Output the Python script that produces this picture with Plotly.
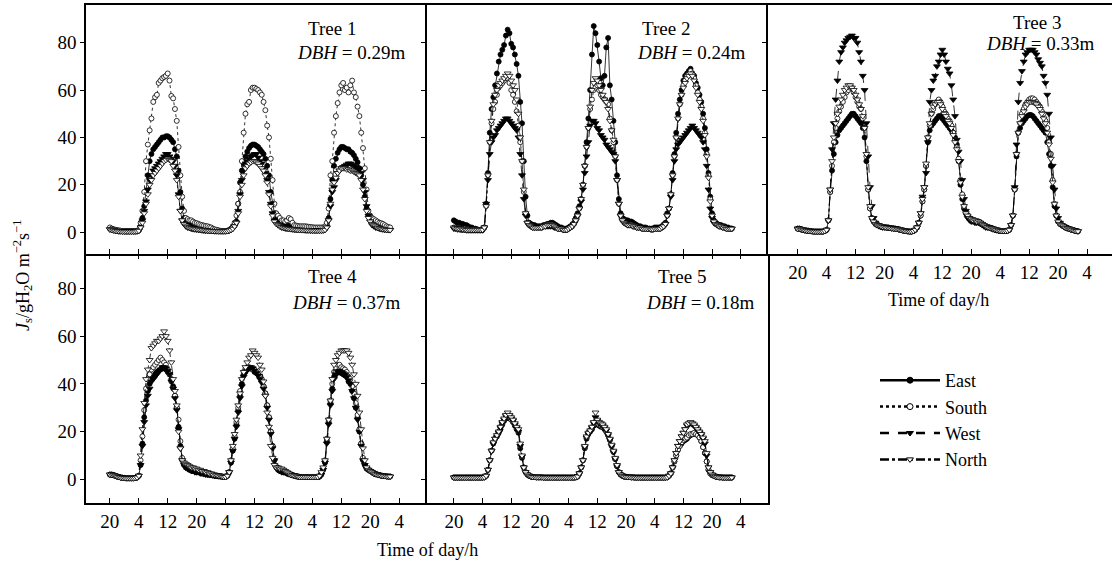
import plotly.graph_objects as go

# ---------------- data (half-hourly sap flux density) ----------------
hours = [i * 0.5 for i in range(156)]          # hours after 20:00 of first day
tick_vals = [0, 8, 16, 24, 32, 40, 48, 56, 64, 72, 80]
tick_text = ["20", "4", "12", "20", "4", "12", "20", "4", "12", "20", "4"]
y_ticks = [0, 20, 40, 60, 80]

tree_names = ["Tree 1", "Tree 2", "Tree 3", "Tree 4", "Tree 5"]
tree_dbh = ["0.29", "0.24", "0.33", "0.37", "0.18"]
directions = ["East", "South", "West", "North"]

tree1_east = [
    1.5, 1.5, 1.2, 1.0, 0.8, 0.7, 0.6, 0.5, 0.5, 0.5, 0.5, 0.5,
    0.5, 0.5, 0.5, 0.6, 0.8, 2.5, 6, 11, 17, 24, 30, 33,
    35, 36, 37, 38, 39, 40, 40, 40.5, 40.5, 40, 39, 38,
    35, 32, 26, 17, 10, 6, 4.5, 3.5, 3, 2.8, 2.5, 2.3,
    2.2, 2, 2, 1.8, 1.6, 1.5, 1.5, 1.4, 1.3, 1.2, 1, 0.8,
    0.7, 0.5, 0.5, 0.5, 0.5, 0.6, 0.8, 1.2, 2, 3, 4.5, 12,
    21, 26, 29, 32, 34, 35.5, 36.5, 37, 37, 36.5, 36, 35,
    34, 33, 31, 28, 24, 17, 12, 8, 5.5, 4.5, 4, 3.5,
    3, 3, 2.8, 2.6, 2.5, 2.4, 2.2, 2.1, 2, 2, 2, 1.9,
    1.8, 1.8, 1.7, 1.6, 1.6, 1.5, 1.5, 1.5, 1.5, 1.5, 1.5, 1.5,
    3, 6, 14, 22, 28, 31, 33.5, 35, 36, 36, 35.5, 35,
    35, 34, 33.5, 32.5, 31, 29.5, 27, 24, 20, 15, 10, 7,
    5.5, 4.5, 4, 3.5, 3, 2.6, 2.3, 2, 1.8, 1.6, 1.5, 1.5,
]
tree1_south = [
    2, 1.5, 1.2, 1, 0.8, 0.7, 0.6, 0.5, 0.5, 0.5, 0.5, 0.5,
    0.5, 0.5, 0.5, 0.6, 0.8, 4, 9, 17, 30, 37, 43, 48,
    55, 57, 58, 63, 64, 65, 65.5, 66, 67, 64, 57.5, 56.5,
    52, 47, 36, 24, 15, 9, 6, 5.5, 5, 5, 4.5, 4,
    3.8, 3.5, 3.2, 3, 2.8, 2.6, 2.5, 2.2, 2, 1.5, 1.2, 1,
    0.8, 0.6, 0.5, 0.5, 0.5, 0.6, 0.8, 1.5, 2.5, 4, 7, 12,
    17, 30, 42, 50, 54, 55, 60, 61, 61, 60.5, 60, 59,
    58, 55, 51.5, 45, 40, 31, 22, 12, 8, 7, 6, 5,
    5, 4.5, 5, 6, 5.5, 4, 3, 2.8, 2.6, 2.5, 2.5, 2.5,
    2.5, 2.4, 2.3, 2.2, 2.1, 2, 2, 2, 2, 2, 2, 2.5,
    4, 10, 24, 30, 42, 49, 54.5, 59, 62, 63, 60, 61,
    59, 62, 64, 59, 57, 53, 49, 42, 35.5, 27, 18, 9,
    7, 6, 5.5, 5, 4.5, 4, 3.8, 3.5, 3, 2.5, 2.2, 2,
]
tree1_west = [
    1.2, 1, 0.8, 0.6, 0.5, 0.4, 0.4, 0.3, 0.3, 0.3, 0.3, 0.3,
    0.3, 0.3, 0.3, 0.4, 0.6, 2, 5, 9, 13, 18, 22, 24,
    26, 27, 28, 29, 30, 31, 32, 33, 33, 32, 31, 30,
    28, 24, 16, 9, 5, 3.5, 2.5, 2, 1.8, 1.5, 1.3, 1.2,
    1.1, 1, 0.9, 0.8, 0.7, 0.6, 0.6, 0.5, 0.5, 0.5, 0.4, 0.4,
    0.4, 0.4, 0.4, 0.4, 0.4, 0.5, 0.7, 1, 1.5, 2.5, 4, 9,
    16, 22, 26, 29, 30, 31, 32, 32.5, 33, 33, 31.5, 30,
    29, 27, 25, 22, 17, 12, 8, 5, 4, 3, 2.5, 2,
    1.8, 1.6, 1.5, 1.4, 1.3, 1.2, 1.1, 1, 1, 1, 0.9, 0.9,
    0.8, 0.8, 0.8, 0.7, 0.7, 0.7, 0.7, 0.7, 0.7, 0.7, 0.8, 1,
    2, 5, 11, 17, 19, 22, 25, 26, 27, 27.5, 28, 28.5,
    29, 29, 28.5, 28, 27.5, 27, 26.5, 25, 22, 17, 11, 7,
    4.5, 3, 2.5, 2, 1.8, 1.5, 1.3, 1.2, 1, 1, 0.9, 0.9,
]
tree1_north = [
    1.2, 1, 0.8, 0.6, 0.5, 0.4, 0.4, 0.3, 0.3, 0.3, 0.3, 0.3,
    0.3, 0.3, 0.3, 0.4, 0.6, 2, 4, 8, 12, 16, 20, 22,
    24, 25, 26, 27, 28, 29, 30, 30.5, 31, 30.5, 30, 28,
    26, 22, 15, 9, 5, 3.5, 2.8, 2.3, 2, 1.8, 1.6, 1.4,
    1.3, 1.2, 1.1, 1, 0.9, 0.8, 0.7, 0.6, 0.6, 0.5, 0.5, 0.5,
    0.4, 0.4, 0.4, 0.4, 0.4, 0.5, 0.7, 1, 1.5, 2.5, 4, 8,
    15, 20, 24, 27, 28, 29, 29.5, 30, 30, 29.5, 29, 28,
    27, 26, 24, 21, 16, 11, 7, 4.5, 3.5, 3, 2.5, 2.2,
    2, 1.8, 1.6, 1.5, 1.4, 1.3, 1.2, 1.1, 1, 1, 1, 0.9,
    0.9, 0.8, 0.8, 0.8, 0.7, 0.7, 0.7, 0.7, 0.7, 0.7, 0.8, 1,
    2, 5, 12, 18, 21, 23, 25, 26, 27, 27, 27, 26.5,
    26.5, 26, 26, 25.5, 25, 24.5, 24, 22, 18, 14, 9, 6,
    4.5, 3.5, 3, 2.5, 2, 1.8, 1.5, 1.3, 1.2, 1, 1, 0.9,
]

tree2_east = [
    5, 4.5, 4, 4, 3.5, 3.5, 3, 3, 2.5, 2, 2, 1.5,
    1.5, 1.2, 1, 1, 1, 2, 12, 25, 42, 52, 57, 62,
    67, 72, 75, 77, 79, 83, 85.5, 84, 79.5, 78, 75, 71,
    66, 55, 46, 30, 15, 7, 4, 3.5, 3, 3, 2.5, 2.5,
    2.5, 2.5, 3, 3, 3.5, 3.5, 4, 4, 3.5, 3, 2.5, 2,
    2, 1.5, 1.5, 1.5, 2, 2.5, 3, 4, 6, 8, 11, 14,
    20, 28, 38, 48, 60, 75, 87, 84, 79, 72, 65, 62,
    66, 78, 82, 62, 56, 47, 38, 24, 14, 8, 6, 5.5,
    5, 5, 4.5, 4.5, 4, 3.5, 3, 2.5, 2.5, 2, 2, 2,
    1.5, 1.5, 1.5, 1.5, 2, 2, 2, 2, 2.5, 3, 4, 8,
    10, 16, 25, 33, 42, 50, 56, 60, 64, 66, 67, 68,
    69, 67, 66, 63, 61, 58, 55, 50, 44, 35, 25, 15,
    8, 5, 4, 3.5, 3, 3, 2.5, 2.5, 2, 2, 1.5, 1.5,
]
tree2_south = [
    2, 2, 1.8, 1.8, 1.5, 1.5, 1.5, 1.2, 1.2, 1, 1, 1,
    1, 1, 1, 1, 1, 2, 11, 24, 38, 46, 52, 55,
    58, 61, 62, 63, 64, 65, 65, 63, 60, 58, 55, 51,
    45, 38, 30, 17, 8, 4, 3, 2.5, 2, 2, 2, 2,
    2, 2, 2.5, 2.5, 3, 3, 3, 3, 2.5, 2, 1.5, 1.5,
    1.5, 1, 1, 1, 1.5, 2, 2.5, 3.5, 5, 7, 10, 14,
    20, 28, 36, 44, 52, 56, 60, 61, 62, 60, 58, 57,
    56, 55, 54, 48, 43, 38, 32, 22, 12, 7, 5, 4,
    3.5, 3, 3, 3, 2.5, 2.5, 2, 2, 2, 1.5, 1.5, 1.5,
    1.5, 1.5, 1.2, 1.2, 1.5, 1.5, 1.5, 1.5, 2, 2.5, 3.5, 7,
    10, 16, 24, 32, 40, 48, 54, 58, 62, 64, 66, 67,
    68, 67, 65, 62, 59, 56, 53, 48, 42, 33, 24, 14,
    7, 4.5, 3.5, 3, 2.5, 2.5, 2, 2, 1.5, 1.5, 1.5, 1.5,
]
tree2_west = [
    1.5, 1.5, 1.2, 1.2, 1, 1, 1, 0.8, 0.8, 0.8, 0.8, 0.8,
    0.8, 0.8, 0.8, 0.8, 0.8, 2, 12, 22, 33, 38, 40, 41,
    43, 44, 45, 46, 47, 48, 48, 47, 46, 45, 44, 43,
    40, 33, 24, 14, 7, 4, 3, 2.5, 2, 2, 2, 2,
    2, 2, 2.5, 2.5, 2.5, 2.5, 2.5, 2.5, 2, 2, 1.5, 1.5,
    1.5, 1, 1, 1, 1.5, 2, 2.5, 3.5, 5, 7, 10, 13,
    18, 25, 32, 38, 45, 47, 47, 46, 44, 43, 41, 40,
    39, 37, 36, 35, 34, 33, 30, 22, 12, 7, 5, 4,
    3.5, 3, 3, 3, 2.5, 2.5, 2, 2, 2, 1.5, 1.5, 1.5,
    1.5, 1.5, 1.2, 1.2, 1.5, 1.5, 1.5, 1.5, 2, 2.5, 3.5, 7,
    10, 15, 22, 30, 35, 37, 38, 39, 40, 41, 42, 43,
    44, 45, 44, 43, 42, 41, 40, 38, 35, 28, 18, 10,
    6, 4, 3.5, 3, 2.5, 2.5, 2, 2, 1.5, 1.5, 1.5, 1.5,
]
tree2_north = [
    2, 1.8, 1.6, 1.5, 1.5, 1.2, 1.2, 1, 1, 1, 1, 1,
    1, 1, 1, 1, 1, 2, 11, 24, 38, 47, 54, 58,
    60, 62, 63, 64, 65, 66, 67, 66, 64, 62, 60, 56,
    50, 40, 30, 18, 8, 4, 3, 2.5, 2, 2, 2, 2,
    2, 2, 2.5, 2.5, 3, 3, 3, 3, 2.5, 2, 1.5, 1.5,
    1.5, 1, 1, 1, 1.5, 2, 2.5, 3.5, 5, 7, 10, 14,
    20, 28, 36, 44, 53, 60, 63, 65, 64, 62, 60, 58,
    56, 55, 52, 47, 43, 39, 32, 22, 12, 7, 5, 4,
    3.5, 3, 3, 3, 2.5, 2.5, 2, 2, 2, 1.5, 1.5, 1.5,
    1.5, 1.5, 1.2, 1.2, 1.5, 1.5, 1.5, 1.5, 2, 2.5, 3.5, 7,
    10, 16, 24, 32, 40, 48, 54, 58, 61, 63, 65, 66,
    67, 66, 64, 61, 58, 55, 52, 47, 41, 32, 23, 13,
    7, 4.5, 3.5, 3, 2.5, 2.5, 2, 2, 1.5, 1.5, 1.5, 1.5,
]

tree3_east = [
    1.5, 1.5, 1.2, 1, 0.8, 0.7, 0.6, 0.5, 0.4, 0.3, 0.3, 0.3,
    0.3, 0.3, 0.3, 0.5, 1, 5, 17, 26, 33, 38, 41, 43,
    44, 45, 46, 47, 48, 49, 50, 50, 49, 48, 47, 46,
    44, 40, 30, 18, 10, 6, 4.5, 3.5, 3, 2.8, 2.5, 2.3,
    2.2, 2, 2, 1.8, 1.7, 1.6, 1.5, 1.4, 1.2, 1, 0.8, 0.6,
    0.5, 0.4, 0.3, 0.3, 0.5, 1, 2, 4, 7, 13, 18, 28,
    38, 43, 45, 46, 47, 48, 49, 49, 48, 47, 46, 45,
    44, 43, 42, 40, 37, 30, 20, 14, 10, 8, 7, 6,
    5.5, 5, 5, 4.5, 4.5, 4, 3.5, 3, 2.5, 2.2, 2, 1.8,
    1.5, 1.2, 1, 0.8, 0.6, 0.5, 0.5, 0.5, 0.6, 1, 3, 7,
    18, 32, 42, 44, 46, 47, 48, 49, 49.5, 49.5, 49, 48,
    47, 46, 45, 44, 43, 42, 38, 33, 28, 19, 11, 7,
    4.5, 3.5, 3, 2.5, 2, 1.8, 1.5, 1.2, 1, 0.7, 0.5, 0.4,
]
tree3_south = [
    1.5, 1.5, 1.2, 1, 0.8, 0.7, 0.6, 0.5, 0.4, 0.3, 0.3, 0.3,
    0.3, 0.3, 0.3, 0.5, 1, 5, 17, 28, 38, 44, 48, 51,
    53, 55, 57, 59, 60, 61, 61, 59, 57, 55, 53, 52,
    48, 44, 32, 18, 10, 6, 4.5, 3.5, 3, 2.8, 2.5, 2.3,
    2.2, 2, 2, 1.8, 1.7, 1.6, 1.5, 1.4, 1.2, 1, 0.8, 0.6,
    0.5, 0.4, 0.3, 0.3, 0.5, 1, 2, 4, 7, 13, 18, 28,
    40, 45, 50, 52, 54, 55, 56, 55, 53, 51, 50, 48,
    47, 45, 42, 39, 36, 31, 22, 16, 11, 8, 7, 6,
    5.5, 5, 5, 4.5, 4.5, 4, 3.5, 3, 2.5, 2.2, 2, 1.8,
    1.5, 1.2, 1, 0.8, 0.6, 0.5, 0.5, 0.5, 0.6, 1, 3, 7,
    18, 33, 42, 46, 50, 52, 54, 55, 56, 56.5, 56.5, 56,
    55, 54, 53, 51, 50, 47, 44, 38, 33, 22, 12, 7,
    4.5, 3.5, 3, 2.5, 2, 1.8, 1.5, 1.2, 1, 0.7, 0.5, 0.4,
]
tree3_west = [
    1.5, 1.5, 1.2, 1, 0.8, 0.7, 0.6, 0.5, 0.4, 0.3, 0.3, 0.3,
    0.3, 0.3, 0.3, 0.5, 1, 5, 18, 35, 46, 56, 64, 72,
    76, 78, 80, 81, 82, 82.5, 83, 82, 82, 80, 76, 72,
    66, 60, 46, 32, 19, 11, 6, 4, 3, 2.5, 2.2, 2,
    2, 2, 1.8, 1.8, 1.6, 1.5, 1.5, 1.4, 1.2, 1, 0.8, 0.6,
    0.5, 0.4, 0.3, 0.3, 0.5, 1, 2, 4, 8, 15, 19, 25,
    38, 55, 60, 64, 66, 70, 72, 75, 77, 75, 72, 69,
    67, 62, 56, 49, 39, 34, 30, 22, 14, 9, 6, 5,
    4.5, 4.5, 4, 4, 4, 3.5, 3, 2.5, 2, 2, 1.8, 1.5,
    1.2, 1, 0.8, 0.6, 0.5, 0.5, 0.5, 0.5, 0.6, 1, 3, 7,
    19, 37, 55, 63, 68, 72, 75, 76, 77, 77, 77, 76,
    75, 73, 71.5, 70, 66, 63, 58, 50, 40, 28, 18, 10,
    6, 4, 3, 2.5, 2, 1.6, 1.4, 1.2, 1, 0.8, 0.5, 0.4,
]
tree3_north = [
    1.5, 1.5, 1.2, 1, 0.8, 0.7, 0.6, 0.5, 0.4, 0.3, 0.3, 0.3,
    0.3, 0.3, 0.3, 0.5, 1, 5, 18, 30, 40, 46, 50, 53,
    56, 58, 60, 61, 62, 62, 61, 60, 58, 56, 54, 52,
    49, 44, 33, 19, 11, 6, 4.5, 3.5, 3, 2.8, 2.5, 2.3,
    2.2, 2, 2, 1.8, 1.7, 1.6, 1.5, 1.4, 1.2, 1, 0.8, 0.6,
    0.5, 0.4, 0.3, 0.3, 0.5, 1, 2, 4, 8, 14, 19, 29,
    40, 46, 50, 53, 54, 55, 55, 54, 52, 50, 49, 47,
    46, 44, 41, 38, 35, 30, 21, 15, 11, 8, 7, 6,
    5.5, 5, 5, 4.5, 4.5, 4, 3.5, 3, 2.5, 2.2, 2, 1.8,
    1.5, 1.2, 1, 0.8, 0.6, 0.5, 0.5, 0.5, 0.6, 1, 3, 7,
    18, 33, 42, 46, 49, 51, 53, 54, 55, 55, 55, 54.5,
    54, 53, 52, 50, 48, 46, 42, 37, 31, 21, 12, 7,
    4.5, 3.5, 3, 2.5, 2, 1.8, 1.5, 1.2, 1, 0.7, 0.5, 0.4,
]

tree4_east = [
    2, 2, 1.8, 1.5, 1.2, 1, 0.8, 0.7, 0.6, 0.5, 0.5, 0.5,
    0.5, 0.5, 0.6, 0.8, 1.5, 6, 15, 26, 33, 37, 40, 42,
    43, 44, 45, 45.5, 46, 46.5, 46.5, 46, 45, 44, 42, 39,
    35, 30, 22, 14, 8, 6, 5, 4.5, 4, 4, 3.5, 3.5,
    3, 3, 3, 2.5, 2.5, 2.5, 2, 2, 2, 1.8, 1.6, 1.5,
    1.4, 1.3, 1.2, 1, 1, 1.5, 3, 7, 12, 17, 23, 29,
    35, 40, 44, 45, 46, 46.5, 46.5, 46, 45, 44.5, 44, 43,
    41.5, 39, 36, 31, 26, 20, 14, 8, 5, 4, 3.5, 3.5,
    3, 3, 2.5, 2.2, 2, 1.8, 1.5, 1.3, 1.2, 1, 1, 1,
    1, 1, 1, 1, 1, 1, 1, 1, 1.2, 2, 4, 7,
    16, 24, 32, 38, 43, 44, 45, 45, 44.5, 44, 43.5, 43,
    41, 40, 37, 34, 30, 26, 20, 15, 8, 6, 4.5, 4,
    3.5, 3, 2.5, 2.2, 2, 1.8, 1.6, 1.5, 1.4, 1.3, 1.2, 1.2,
]
tree4_south = [
    2, 2, 1.8, 1.5, 1.2, 1, 0.8, 0.7, 0.6, 0.5, 0.5, 0.5,
    0.5, 0.5, 0.6, 0.8, 1.5, 8, 18, 29, 38, 42, 44, 46,
    47, 48, 49, 50, 51, 50, 49, 48, 46, 44, 41, 38,
    35, 30, 25, 16, 9, 7, 6, 5.5, 5, 4.5, 4.5, 4,
    4, 3.5, 3.5, 3, 3, 2.5, 2.5, 2.2, 2, 1.8, 1.6, 1.5,
    1.4, 1.3, 1.2, 1, 1, 1.5, 3, 8, 13, 18, 24, 30,
    37, 42, 45, 46.5, 47, 47, 46.5, 46, 46, 45, 44, 43,
    42, 39, 36, 31, 26, 20, 14, 8, 5.5, 4.5, 4, 3.5,
    3.5, 3, 2.5, 2.2, 2, 1.8, 1.5, 1.3, 1.2, 1, 1, 1,
    1, 1, 1, 1, 1, 1, 1, 1, 1.2, 2.5, 4.5, 8,
    17, 25, 33, 40, 45, 47, 48, 48, 47, 46.5, 46, 45,
    43, 42, 39, 36, 32, 27, 21, 15, 9, 6, 4.5, 4,
    3.5, 3, 2.5, 2.2, 2, 1.8, 1.6, 1.5, 1.4, 1.3, 1.2, 1.2,
]
tree4_west = [
    2, 2, 1.8, 1.5, 1.2, 1, 0.8, 0.7, 0.6, 0.5, 0.5, 0.5,
    0.5, 0.5, 0.6, 0.8, 1.5, 6, 14, 24, 31, 35, 38, 41,
    42, 43, 44, 45, 46, 47, 47, 46.5, 45.5, 44, 41, 38,
    34, 29, 21, 13, 8, 6, 5, 4.5, 4, 3.5, 3.5, 3,
    3, 3, 2.5, 2.5, 2.2, 2, 2, 1.8, 1.8, 1.6, 1.5, 1.4,
    1.3, 1.2, 1.1, 1, 1, 1.5, 3, 7, 12, 17, 22, 28,
    34, 39, 43, 45, 46, 47, 47, 46.5, 45.5, 44.5, 43.5, 42,
    40.5, 38, 35, 30, 25, 19, 13, 8, 5, 4, 3.5, 3,
    3, 2.8, 2.5, 2.2, 2, 1.8, 1.5, 1.3, 1.2, 1, 1, 1,
    1, 1, 1, 1, 1, 1, 1, 1, 1.2, 2, 4, 7,
    15, 23, 31, 37, 42, 44, 45, 45.5, 45, 44.5, 44, 43,
    41.5, 40, 37, 34, 30, 25, 20, 14, 8, 6, 4.5, 4,
    3.5, 3, 2.5, 2.2, 2, 1.8, 1.6, 1.5, 1.4, 1.3, 1.2, 1.2,
]
tree4_north = [
    2, 2, 1.8, 1.5, 1.2, 1, 0.8, 0.7, 0.6, 0.5, 0.5, 0.5,
    0.5, 0.5, 0.6, 0.8, 1.5, 10, 21, 32, 42, 46, 50, 55,
    56, 57, 58, 58, 59, 60, 62, 60, 58, 54, 49, 42,
    37, 31, 20, 13, 8, 7, 6.5, 6, 5.5, 5, 5, 4.5,
    4.5, 4, 4, 3.5, 3.5, 3, 3, 2.5, 2.5, 2, 2, 1.8,
    1.6, 1.5, 1.2, 1, 1, 1.5, 3, 8, 14, 19, 25, 31,
    36, 42, 45, 47, 49, 51, 52, 54, 53, 52, 51, 48,
    46, 41, 35, 28, 22, 14, 9, 6, 5, 5, 4.5, 4.5,
    4, 3.5, 3, 2.5, 2, 1.8, 1.6, 1.5, 1.2, 1, 1, 1,
    1, 1, 1, 1, 1, 1, 1, 1, 1.5, 3, 5, 8,
    17, 25, 33, 42, 48, 50, 52, 53, 54, 54, 54, 54,
    53, 51, 48, 44, 40, 35, 28, 21, 13, 8, 5, 4,
    3.5, 3, 2.5, 2.2, 2, 1.8, 1.6, 1.5, 1.4, 1.3, 1.2, 1.2,
]

tree5_east = [
    0.8, 0.8, 0.8, 0.8, 0.8, 0.8, 0.8, 0.8, 0.8, 0.8, 0.8, 0.8,
    0.8, 0.8, 0.8, 0.8, 0.8, 0.9, 1.5, 4, 8, 12, 15, 17,
    18, 19.5, 21, 23, 24.5, 25.5, 26, 25.5, 25, 24, 22.5, 21,
    19.5, 13, 9, 5, 3, 2, 1.5, 1.2, 1, 1, 0.9, 0.9,
    0.9, 0.9, 0.8, 0.8, 0.8, 0.8, 0.8, 0.8, 0.8, 0.8, 0.8, 0.8,
    0.8, 0.8, 0.8, 0.8, 0.8, 0.8, 0.8, 0.8, 0.9, 1.2, 2.5, 5,
    8, 13, 17, 19, 20, 21, 22.5, 23, 23, 22.5, 22, 22,
    21, 20, 18.5, 16.5, 14, 11.5, 8.5, 5.5, 3, 2, 1.5, 1.2,
    1.1, 1, 1, 0.9, 0.9, 0.8, 0.8, 0.8, 0.8, 0.8, 0.8, 0.8,
    0.8, 0.8, 0.8, 0.8, 0.8, 0.8, 0.8, 0.8, 0.8, 0.8, 0.8, 0.9,
    1.5, 2.5, 5, 7.5, 10, 12.5, 14, 15, 16, 16.5, 17, 18,
    18.5, 19, 19, 19, 18.5, 17.6, 16, 13.5, 11, 7.5, 4, 2.5,
    1.8, 1.5, 1.2, 1, 0.9, 0.9, 0.8, 0.8, 0.8, 0.8, 0.8, 0.8,
]
tree5_south = [
    0.8, 0.8, 0.8, 0.8, 0.8, 0.8, 0.8, 0.8, 0.8, 0.8, 0.8, 0.8,
    0.8, 0.8, 0.8, 0.8, 0.8, 0.9, 1.5, 4, 8, 12, 15.5, 17,
    18.5, 20, 22, 23.5, 25, 26, 26.5, 26, 25, 24, 23, 21.5,
    20, 14, 9.5, 5, 3, 2, 1.5, 1.2, 1, 1, 0.9, 0.9,
    0.9, 0.9, 0.8, 0.8, 0.8, 0.8, 0.8, 0.8, 0.8, 0.8, 0.8, 0.8,
    0.8, 0.8, 0.8, 0.8, 0.8, 0.8, 0.8, 0.8, 0.9, 1.2, 2.5, 5,
    8, 13.5, 17.5, 19.5, 20.5, 21.5, 23, 24, 23.5, 23, 22.5, 22,
    21.5, 20, 18.5, 16.5, 14, 11.5, 8.5, 5.5, 3, 2, 1.5, 1.2,
    1.1, 1, 1, 0.9, 0.9, 0.8, 0.8, 0.8, 0.8, 0.8, 0.8, 0.8,
    0.8, 0.8, 0.8, 0.8, 0.8, 0.8, 0.8, 0.8, 0.8, 0.8, 0.8, 0.9,
    1.5, 2.5, 5, 7.5, 10, 12.5, 14, 15.5, 16.5, 17, 17.5, 18.5,
    19, 19, 19.5, 19, 18.5, 17.5, 16, 13.5, 11, 7.5, 4, 2.5,
    1.8, 1.5, 1.2, 1, 0.9, 0.9, 0.8, 0.8, 0.8, 0.8, 0.8, 0.8,
]
tree5_west = [
    0.8, 0.8, 0.8, 0.8, 0.8, 0.8, 0.8, 0.8, 0.8, 0.8, 0.8, 0.8,
    0.8, 0.8, 0.8, 0.8, 0.8, 0.9, 1.5, 4, 8, 12, 15, 17,
    18, 19.5, 21.5, 23.5, 25, 26.5, 27, 26.5, 25.5, 24.5, 23, 21.5,
    20, 14, 9.5, 5, 3, 2, 1.5, 1.2, 1, 1, 0.9, 0.9,
    0.9, 0.9, 0.8, 0.8, 0.8, 0.8, 0.8, 0.8, 0.8, 0.8, 0.8, 0.8,
    0.8, 0.8, 0.8, 0.8, 0.8, 0.8, 0.8, 0.8, 0.9, 1.2, 2.5, 5,
    8, 13.5, 17.5, 19, 20, 21.5, 23.5, 26, 24.5, 23.5, 23, 22.5,
    21.5, 20.5, 18.5, 16.5, 14, 11.5, 8.5, 5.5, 3, 2, 1.5, 1.2,
    1.1, 1, 1, 0.9, 0.9, 0.8, 0.8, 0.8, 0.8, 0.8, 0.8, 0.8,
    0.8, 0.8, 0.8, 0.8, 0.8, 0.8, 0.8, 0.8, 0.8, 0.8, 0.8, 0.9,
    1.5, 2.5, 5, 8, 11, 14, 16, 18, 19.5, 21, 22.5, 23,
    23.5, 23, 22.5, 21.5, 20.5, 19.5, 18.5, 17, 15, 10, 5, 3,
    2, 1.5, 1.2, 1, 0.9, 0.9, 0.8, 0.8, 0.8, 0.8, 0.8, 0.8,
]
tree5_north = [
    0.8, 0.8, 0.8, 0.8, 0.8, 0.8, 0.8, 0.8, 0.8, 0.8, 0.8, 0.8,
    0.8, 0.8, 0.8, 0.8, 0.8, 0.9, 1.5, 4, 8, 12, 15.5, 17,
    18.5, 20, 22, 24, 25.5, 27, 28, 27, 26, 25, 23.5, 22,
    21, 15, 10, 5, 3, 2, 1.5, 1.2, 1, 1, 0.9, 0.9,
    0.9, 0.9, 0.8, 0.8, 0.8, 0.8, 0.8, 0.8, 0.8, 0.8, 0.8, 0.8,
    0.8, 0.8, 0.8, 0.8, 0.8, 0.8, 0.8, 0.8, 0.9, 1.2, 2.5, 5,
    8, 14, 18, 19.5, 20.5, 22, 24, 28, 25, 24, 23.5, 23,
    22, 21, 19, 17, 14.5, 12, 9, 6, 3, 2, 1.5, 1.2,
    1.1, 1, 1, 0.9, 0.9, 0.8, 0.8, 0.8, 0.8, 0.8, 0.8, 0.8,
    0.8, 0.8, 0.8, 0.8, 0.8, 0.8, 0.8, 0.8, 0.8, 0.8, 0.8, 0.9,
    1.5, 2.5, 5, 8, 11, 14, 16, 18, 19.5, 21, 23, 23.5,
    24, 23.5, 23, 22, 21, 20, 19, 17.5, 16, 11, 5, 3,
    2, 1.5, 1.2, 1, 0.9, 0.9, 0.8, 0.8, 0.8, 0.8, 0.8, 0.8,
]

tree_series = [
    [tree1_east, tree1_south, tree1_west, tree1_north],
    [tree2_east, tree2_south, tree2_west, tree2_north],
    [tree3_east, tree3_south, tree3_west, tree3_north],
    [tree4_east, tree4_south, tree4_west, tree4_north],
    [tree5_east, tree5_south, tree5_west, tree5_north],
]

# ---------------- styling / layout ----------------
W, H = 1112, 567
FONT = "Liberation Serif"
col_px = [(86, 427), (427, 768), (768, 1112)]
row_px = [(5, 254), (254, 503)]
x_ranges = [[-6.6, 87.7], [-7.5, 87.6], [-8.2, 86.9]]
y_ranges = [[-9.2, 95.9], [-9.9, 94.4]]
panel_pos = [(0, 0), (0, 1), (0, 2), (1, 0), (1, 1)]
LW = 1.5

styles = {
    "East": dict(dash="solid", symbol="circle", fill="black", size=5),
    "South": dict(dash="dot", symbol="circle", fill="white", size=5),
    "West": dict(dash="dash", symbol="triangle-down", fill="black", size=6),
    "North": dict(dash="dashdot", symbol="triangle-down", fill="white", size=6),
}

fig = go.Figure()
tickfont = dict(family=FONT, size=19, color="black")

for k, (r, c) in enumerate(panel_pos):
    sfx = "" if k == 0 else str(k + 1)
    for d, ys in zip(directions, tree_series[k]):
        st = styles[d]
        fig.add_trace(go.Scatter(
            x=hours[:len(ys)], y=ys, mode="lines+markers", name=d,
            showlegend=False, xaxis="x" + sfx, yaxis="y" + sfx,
            line=dict(color="black", width=0.8, dash=st["dash"]),
            marker=dict(symbol=st["symbol"], size=st["size"], color=st["fill"],
                        line=dict(color="black", width=0.8)),
            hoverinfo="skip",
        ))

    x0, x1 = col_px[c]
    y0, y1 = row_px[r]
    fig.layout["xaxis" + sfx] = dict(
        domain=[x0 / W, x1 / W], range=x_ranges[c], anchor="y" + sfx,
        tickmode="array", tickvals=tick_vals, ticktext=tick_text,
        ticks="inside", ticklen=5, tickwidth=1, tickcolor="black",
        showline=True, linecolor="black", linewidth=LW,
        mirror=(r == 0),          # row 1 draws the shared border line
        showticklabels=(r == 1 or k == 2),
        showgrid=False, zeroline=False, tickfont=tickfont,
    )
    fig.layout["yaxis" + sfx] = dict(
        domain=[1 - y1 / H, 1 - y0 / H], range=y_ranges[r], anchor="x" + sfx,
        tickmode="array", tickvals=y_ticks,
        ticks="outside", ticklen=4, tickwidth=1, tickcolor="black",
        showline=True, linecolor="black", linewidth=LW,
        mirror=(k == 4),          # only the lower-middle panel draws its own right edge
        showticklabels=(c == 0),
        showgrid=False, zeroline=False, tickfont=tickfont,
    )

# top-edge tick marks for the lower row (pointing down into the panels)
for k, (r, c) in enumerate(panel_pos):
    if r != 1:
        continue
    sfx = str(k + 1)
    ov = str(k + 3)  # xaxis7, xaxis8
    fig.layout["xaxis" + ov] = dict(
        overlaying="x" + sfx, anchor="y" + sfx, side="top",
        range=x_ranges[c], tickmode="array", tickvals=tick_vals,
        ticks="inside", ticklen=5, tickwidth=1, tickcolor="black",
        showline=False, showticklabels=False, showgrid=False, zeroline=False,
    )
    fig.add_trace(go.Scatter(x=[None], y=[None], xaxis="x" + ov, yaxis="y" + sfx,
                             showlegend=False, hoverinfo="skip"))

# legend entries (style samples only)
for d in directions:
    st = styles[d]
    fig.add_trace(go.Scatter(
        x=[None], y=[None], mode="lines+markers", name=d, showlegend=True,
        line=dict(color="black", width=2.5, dash=st["dash"]),
        marker=dict(symbol=st["symbol"], size=6, color=st["fill"],
                    line=dict(color="black", width=1)),
    ))

annotations = []
tree_label_pos = [(332, 29, 408, 53), (666, 29, 748, 53), (1037, 22, 1097, 43),
                  (332, 277, 403, 302), (682, 277, 757, 302)]
for k, (tx, ty, dx, dy) in enumerate(tree_label_pos):
    annotations.append(dict(x=tx / W, y=1 - ty / H, xref="paper", yref="paper",
                            text=tree_names[k], showarrow=False, xanchor="center",
                            yanchor="middle", font=dict(family=FONT, size=19, color="black")))
    annotations.append(dict(x=dx / W, y=1 - dy / H, xref="paper", yref="paper",
                            text="<i>DBH</i> = " + tree_dbh[k] + "m", showarrow=False,
                            xanchor="right", yanchor="middle",
                            font=dict(family=FONT, size=19, color="black")))

annotations.append(dict(x=427 / W, y=1 - 550 / H, xref="paper", yref="paper",
                        text="Time of day/h", showarrow=False, xanchor="center", yanchor="middle",
                        font=dict(family=FONT, size=18, color="black")))
annotations.append(dict(x=938 / W, y=1 - 300 / H, xref="paper", yref="paper",
                        text="Time of day/h", showarrow=False, xanchor="center", yanchor="middle",
                        font=dict(family=FONT, size=18, color="black")))
annotations.append(dict(x=22 / W, y=1 - 275 / H, xref="paper", yref="paper",
                        text="<i>J</i><sub>s</sub>/gH<sub>2</sub>O m<sup>\u22122</sup>s<sup>\u22121</sup>",
                        showarrow=False, textangle=-90, xanchor="center", yanchor="middle",
                        font=dict(family=FONT, size=18, color="black")))

fig.update_layout(
    width=W, height=H, margin=dict(l=0, r=0, t=0, b=0),
    paper_bgcolor="white", plot_bgcolor="white",
    annotations=annotations,
    legend=dict(x=875 / W, y=1 - 362 / H, xanchor="left", yanchor="top",
                font=dict(family=FONT, size=18, color="black"),
                bgcolor="rgba(0,0,0,0)", itemwidth=60, tracegroupgap=0),
    font=dict(family=FONT, color="black"),
)

fig.write_html("out.html")
